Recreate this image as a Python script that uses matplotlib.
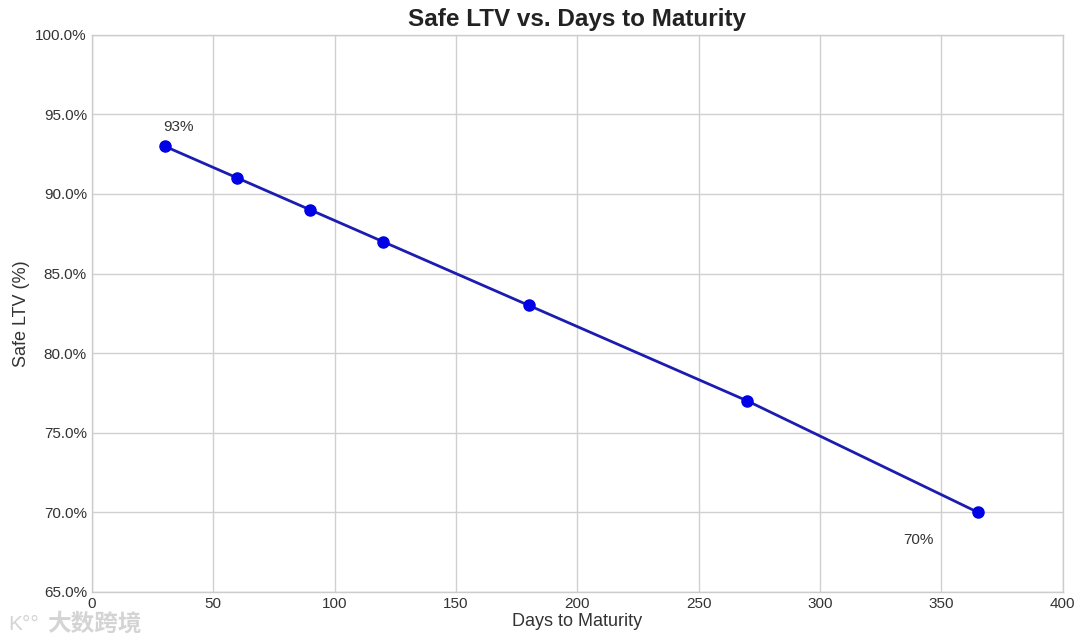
import matplotlib.pyplot as plt
from matplotlib.ticker import PercentFormatter

days = [30, 60, 90, 120, 180, 270, 365]
safe_ltv = [93, 91, 89, 87, 83, 77, 70]

plt.style.use('seaborn-v0_8-whitegrid')
plt.rcParams['font.family'] = ['Liberation Sans', 'DejaVu Sans']

fig = plt.figure(figsize=(10.8, 6.44), dpi=100)
ax = fig.add_axes([0.085, 0.081, 0.899, 0.865])

ax.plot(days, safe_ltv, color='#1c1cb0', linewidth=2, marker='o', markersize=8,
        markerfacecolor='#0000e6', markeredgecolor='#0000e6')

ax.annotate(f'{safe_ltv[0]}%', (days[0], safe_ltv[0]), xytext=(10, 11),
            textcoords='offset points', ha='center', fontsize=11, color='#333333')
ax.annotate(f'{safe_ltv[-1]}%', (days[-1], safe_ltv[-1]), xytext=(-43, -23),
            textcoords='offset points', ha='center', fontsize=11, color='#333333')

ax.set_xlim(0, 400)
ax.set_ylim(65, 100)
ax.yaxis.set_major_formatter(PercentFormatter(decimals=1))
ax.tick_params(labelsize=11, colors='#333333')
ax.set_title('Safe LTV vs. Days to Maturity', fontsize=17.5, fontweight='bold', color='#222222', pad=6)
ax.set_xlabel('Days to Maturity', fontsize=13, color='#333333', labelpad=2)
ax.set_ylabel('Safe LTV (%)', fontsize=13, color='#333333')
for s in ax.spines.values():
    s.set_visible(True)
    s.set_color('#cccccc')
ax.grid(color='#d0d0d0', linewidth=1)

# watermark
fig.text(0.087, 0.031, '大数跨境', fontsize=17, color='#d4d4d4', ha='center', va='center',
         family=['Noto Sans CJK SC', 'DejaVu Sans'], fontweight='bold')
fig.text(0.022, 0.031, 'K°°', fontsize=15, color='#d4d4d4', ha='center', va='center')

fig.savefig('out.png', dpi=100)
